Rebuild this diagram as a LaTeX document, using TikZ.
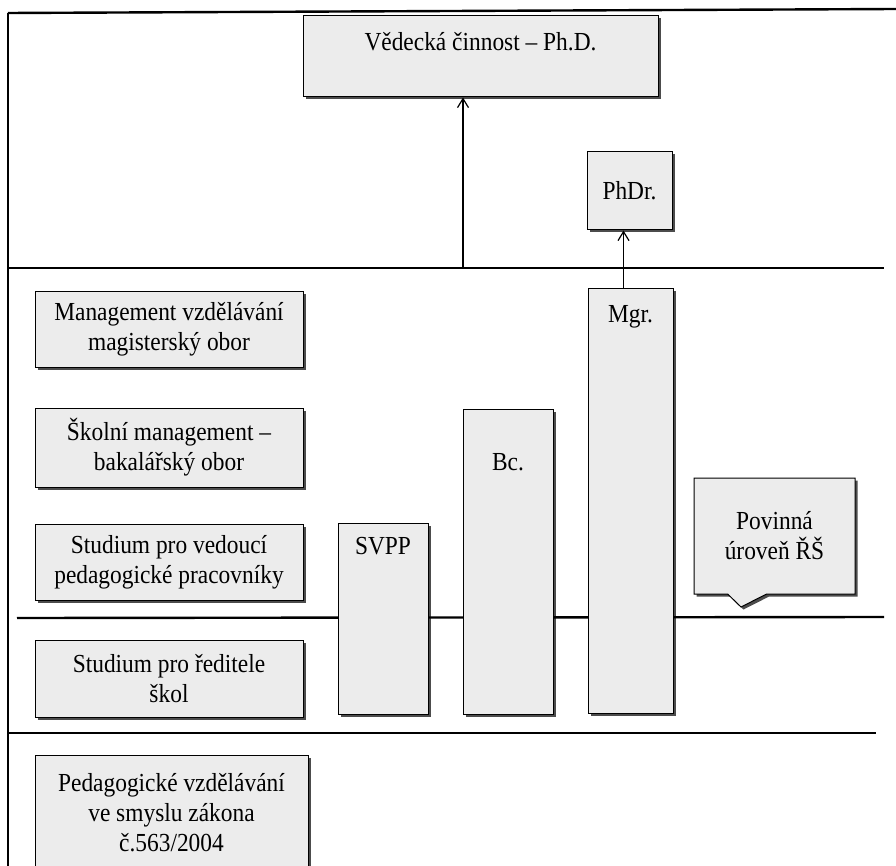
\documentclass[tikz,border=0pt]{standalone}
\usepackage{fontspec}
\setmainfont[FakeStretch=0.9]{Liberation Serif}
\usetikzlibrary{positioning,shadows,shapes.callouts,arrows.meta}

\begin{document}
\begin{tikzpicture}[x=1pt,y=-1pt,
    font=\fontsize{26}{30}\selectfont,
    box/.style={shape=rectangle,draw,line width=1pt,fill=stbox,align=center,inner sep=0pt,
        drop shadow={shadow xshift=2.5pt,shadow yshift=-2.5pt,fill=black,opacity=0.7}},
    tag/.style={anchor=north,inner sep=0pt,text height=17pt},
    level/.style={line width=2.4pt},
    up/.style={-{Straight Barb[length=9pt,width=11pt]},line width=1.2pt}]
    \definecolor{stbox}{RGB}{236,236,236}
    \useasboundingbox (0,0) rectangle (896,866);
    % frame and levels
    \draw[line width=1.2pt] (8,13) -- (8,866);
    \draw[level] (8,13) -- (896,9);
    \draw[level] (8,268) -- (884,268);
    \draw[level] (17,618) -- (884,617);
    \draw[level] (8,733) -- (876,733);
    % left column
    \node[box,minimum width=268pt,minimum height=75pt]  (mvz) at (169,329.5) {Management vzdělávání\\magisterský obor};
    \node[box,minimum width=268pt,minimum height=79pt]  (skm) at (169,447.5) {Školní management –\\bakalářský obor};
    \node[box,minimum width=268pt,minimum height=76pt]  (svp) at (169,562)   {Studium pro vedoucí\\pedagogické pracovníky};
    \node[box,minimum width=268pt,minimum height=77pt]  (sre) at (169,678.5) {Studium pro ředitele\\škol};
    \node[box,minimum width=273pt,minimum height=116pt] (ped) at (171.5,813) {Pedagogické vzdělávání\\ve smyslu zákona\\č.563/2004};
    % bars
    \node[box,minimum width=90pt,minimum height=191pt,label={[tag,yshift=-15pt]north:SVPP}] (svpp) at (383,618.5) {};
    \node[box,minimum width=90pt,minimum height=305pt,label={[tag,yshift=-45pt]north:Bc.}]  (bc)   at (508,561.5) {};
    \node[box,minimum width=85pt,minimum height=424pt,label={[tag,yshift=-17pt]north:Mgr.}] (mgr)  at (630.5,501) {};
    % top level
    \node[box,minimum width=355pt,minimum height=81pt,label={[tag,yshift=-18pt]north:Vědecká činnost – Ph.D.}] (phd) at (480.5,56.5) {};
    \node[box,minimum width=85pt,minimum height=78pt] (phdr) at (629.5,191) {PhDr.};
    \node[box,rectangle callout,callout absolute pointer={(741,607)},callout pointer width=39pt,
        minimum width=161pt,minimum height=116pt] (rs) at (774.5,536) {Povinná\\úroveň ŘŠ};
    % arrows
    \coordinate (phd0) at (463,268);
    \draw[up] (phd0) -- (phd0 |- phd.south);
    \draw[up] ([xshift=-7pt]mgr.north) -- ([xshift=-7pt]mgr.north |- phdr.south);
\end{tikzpicture}
\end{document}
